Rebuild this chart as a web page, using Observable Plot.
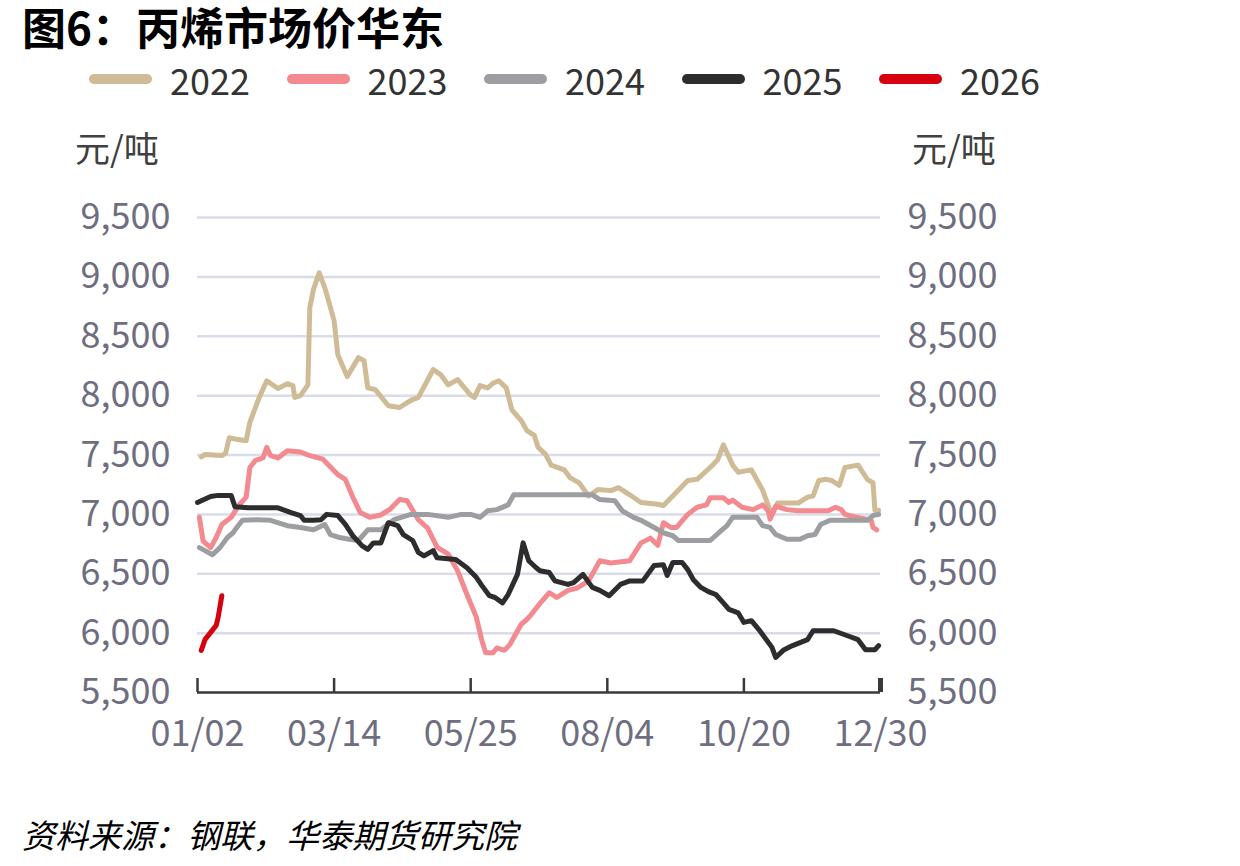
<!DOCTYPE html>
<html>
<head>
<meta charset="utf-8">
<script src="https://cdn.jsdelivr.net/npm/d3@7"></script>
<script src="https://cdn.jsdelivr.net/npm/@observablehq/plot@0.6"></script>
<style>
  body { margin: 0; background: #fff; font-family: "Noto Sans CJK SC", "Noto Sans", sans-serif; }
  #wrap { position: relative; width: 1240px; height: 866px; overflow: hidden; background: #fff; }
  #chart { position: absolute; left: 0; top: 0; }
  #title { position: absolute; left: 22px; top: 0px; font-size: 44px; font-weight: bold; line-height: 1.2; color: #000; white-space: nowrap; }
  .leg { position: absolute; top: 61px; height: 36px; display: flex; align-items: center; white-space: nowrap; }
  .sw { width: 63px; height: 10px; border-radius: 5px; margin-right: 18px; }
  .lt { font-size: 36px; line-height: 1; color: #333; }
  .unit { position: absolute; top: 129px; font-size: 35px; line-height: 1; color: #404040; white-space: nowrap; }
  #source { position: absolute; left: 22px; top: 816px; font-size: 33px; line-height: 1.1; font-style: italic; color: #000; white-space: nowrap; }
</style>
</head>
<body>
<div id="wrap">
  <div id="chart"></div>
  <div id="title"></div>
  <div id="legend"></div>
  <div class="unit" id="unitL" style="left:75px"></div>
  <div class="unit" id="unitR" style="left:912px"></div>
  <div id="source"></div>
</div>
<script>
const titleText = "图6：丙烯市场价华东";
const unitText = "元/吨";
const sourceText = "资料来源：钢联，华泰期货研究院";

const years = ["2022", "2023", "2024", "2025", "2026"];
const colors = ["#CFBB95", "#F28A8F", "#9C9EA1", "#2D2D2D", "#D7000F"];

const xTickDays = [0, 73, 146, 219, 292, 365];
const xTickLabels = ["01/02", "03/14", "05/25", "08/04", "10/20", "12/30"];
const yTicks = [5500, 6000, 6500, 7000, 7500, 8000, 8500, 9000, 9500];

// [day index on the category axis, price 元/吨]
const s2022 = [[2,7485],[4,7505],[13,7495],[15,7515],[17,7645],[20,7635],[26,7620],[28,7775],[33,7985],[37,8125],
  [43,8060],[48,8100],[51,8085],[52,7985],[55,8000],[59,8090],[60,8740],[62,8895],[65,9035],[68,8910],
  [71,8745],[73,8630],[75,8345],[80,8160],[86,8320],[89,8295],[91,8065],[95,8050],[102,7915],[108,7900],
  [114,7960],[118,7985],[126,8220],[130,8175],[134,8090],[139,8135],[146,8005],[148,7985],[151,8085],[155,8065],
  [158,8105],[161,8125],[165,8065],[168,7880],[173,7790],[176,7705],[180,7665],[182,7565],[186,7505],[189,7415],
  [196,7375],[199,7310],[204,7265],[209,7155],[214,7210],[221,7200],[225,7225],[231,7165],[237,7100],[246,7085],
  [249,7075],[254,7155],[262,7285],[267,7295],[274,7395],[278,7460],[281,7585],[286,7415],[289,7355],[296,7375],
  [302,7205],[305,7075],[307,6995],[310,7095],[321,7095],[326,7145],[329,7155],[332,7285],[336,7295],[339,7285],
  [343,7245],[346,7395],[353,7415],[358,7295],[361,7265],[362,7035],[364,7035]];

const s2023 = [[1,6975],[3,6775],[7,6720],[10,6805],[13,6915],[18,6975],[22,7075],[26,7145],[28,7395],[31,7455],
  [35,7475],[37,7565],[39,7495],[43,7475],[48,7535],[55,7525],[60,7495],[67,7465],[75,7335],[79,7295],
  [83,7145],[87,7015],[92,6975],[98,6995],[103,7045],[108,7125],[112,7115],[115,7035],[118,6955],[123,6885],
  [128,6725],[134,6665],[139,6525],[144,6325],[149,6135],[152,5935],[154,5835],[158,5835],[160,5875],[164,5855],
  [167,5905],[173,6075],[176,6115],[178,6150],[183,6250],[188,6340],[192,6300],[198,6360],[203,6380],[209,6440],
  [215,6610],[221,6590],[231,6610],[237,6760],[242,6800],[246,6740],[249,6930],[253,6890],[256,6890],[262,7000],
  [267,7060],[272,7080],[274,7140],[281,7140],[284,7100],[286,7120],[291,7060],[297,7040],[302,7080],[305,7030],
  [306,6960],[309,7070],[315,7040],[321,7030],[337,7030],[341,7060],[344,7040],[346,7000],[351,6980],[354,6970],
  [360,6950],[361,6890],[363,6870]];

const s2024 = [[1,6720],[4,6695],[8,6660],[12,6720],[16,6805],[19,6845],[21,6890],[24,6950],[32,6955],[39,6950],
  [48,6905],[55,6890],[62,6870],[68,6915],[71,6830],[76,6805],[81,6790],[86,6780],[91,6870],[98,6870],
  [105,6955],[114,7000],[123,7000],[134,6975],[141,7000],[146,7000],[151,6975],[155,7030],[160,7040],[166,7080],
  [169,7165],[211,7165],[215,7125],[223,7115],[227,7030],[233,6975],[237,6950],[244,6890],[249,6845],[254,6820],
  [257,6780],[274,6780],[280,6865],[283,6905],[286,6975],[299,6975],[302,6905],[306,6890],[309,6830],[315,6790],
  [322,6790],[326,6820],[330,6830],[333,6915],[338,6950],[358,6950],[361,6990],[364,7000]];

const s2025 = [[0,7100],[7,7150],[11,7160],[18,7160],[20,7065],[27,7055],[43,7055],[50,7015],[55,6990],[57,6950],
  [62,6950],[66,6955],[69,7000],[75,6990],[79,6915],[83,6820],[88,6735],[91,6705],[94,6760],[98,6760],
  [102,6930],[107,6905],[110,6830],[115,6780],[118,6680],[121,6650],[126,6695],[128,6635],[138,6620],[144,6550],
  [149,6470],[152,6400],[156,6315],[159,6300],[163,6255],[166,6325],[171,6495],[174,6760],[177,6610],[181,6550],
  [183,6525],[188,6510],[191,6440],[198,6410],[201,6425],[206,6495],[211,6385],[215,6360],[220,6315],[226,6410],
  [231,6440],[238,6440],[244,6570],[249,6575],[251,6485],[254,6595],[259,6595],[262,6535],[265,6450],[269,6385],
  [273,6350],[277,6325],[281,6255],[284,6200],[289,6170],[292,6090],[296,6105],[300,6030],[304,5945],[307,5880],
  [309,5795],[313,5855],[318,5895],[326,5945],[329,6020],[340,6020],[347,5980],[353,5945],[357,5860],[362,5860],
  [364,5895]];

const s2026 = [[2,5855],[4,5945],[10,6065],[11,6130],[13,6315]];

const seriesList = [s2022, s2023, s2024, s2025, s2026];

document.getElementById("title").textContent = titleText;
document.getElementById("unitL").textContent = unitText;
document.getElementById("unitR").textContent = unitText;
document.getElementById("source").textContent = sourceText;

const legend = document.getElementById("legend");
years.forEach((yr, i) => {
  const item = document.createElement("div");
  item.className = "leg";
  item.style.left = (89 + i * 197.5) + "px";
  const sw = document.createElement("div");
  sw.className = "sw";
  sw.style.background = colors[i];
  const t = document.createElement("span");
  t.className = "lt";
  t.textContent = yr;
  item.appendChild(sw);
  item.appendChild(t);
  legend.appendChild(item);
});

const lineMarks = seriesList.map((s, i) => Plot.line(s, {
  x: d => d[0], y: d => d[1], stroke: colors[i], strokeWidth: 5,
  strokeLinejoin: "round", strokeLinecap: "round"
}));

const axisColor = "#6E6E80";
const chart = Plot.plot({
  width: 1240,
  height: 780,
  marginLeft: 197,
  marginRight: 360,
  marginTop: 217,
  marginBottom: 88,
  x: { domain: [0, 365] },
  y: { domain: [5500, 9500] },
  style: { fontFamily: '"Noto Sans CJK SC", "Noto Sans", sans-serif', background: "transparent", overflow: "visible" },
  marks: [
    Plot.ruleY(yTicks.slice(1), { stroke: "#D9DCE9", strokeWidth: 2.5 }),
    ...lineMarks,
    Plot.ruleY([5500], { stroke: "#3A3A3A", strokeWidth: 2.5 }),
    Plot.ruleX(xTickDays, { x: d => d, y1: 5500, y2: 5500, insetTop: -14, stroke: "#3A3A3A",
      strokeWidth: d => d === 365 ? 5 : 2.5 }),
    Plot.axisY({ anchor: "left", ticks: yTicks, tickSize: 0, tickPadding: 27, tickFormat: d3.format(","),
      fontSize: 36, color: axisColor, label: null }),
    Plot.axisY({ anchor: "right", ticks: yTicks, tickSize: 0, tickPadding: 27, tickFormat: d3.format(","),
      fontSize: 36, color: axisColor, label: null }),
    Plot.axisX({ ticks: xTickDays, tickSize: 0, tickPadding: 28,
      tickFormat: d => xTickLabels[xTickDays.indexOf(d)], fontSize: 36, color: axisColor, label: null })
  ]
});
document.getElementById("chart").appendChild(chart);
</script>
</body>
</html>
